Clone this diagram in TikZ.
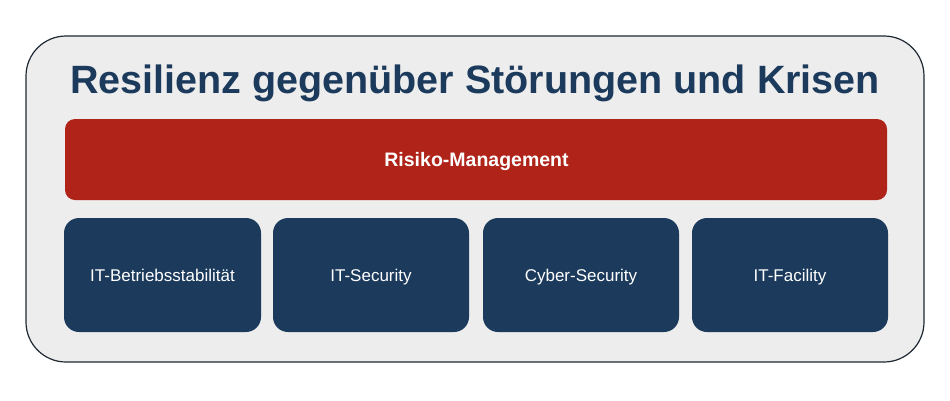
\documentclass[tikz,border=0pt]{standalone}
\usepackage{fontspec}
\setmainfont{Liberation Sans}
\definecolor{navy}{HTML}{1B3A5C}
\definecolor{rred}{HTML}{AF2318}
\definecolor{pale}{HTML}{EDEDED}
\definecolor{edge}{HTML}{1E2833}
\tikzset{
  outerbox/.style={draw=edge, line width=1.2pt, fill=pale, rounded corners=40pt},
  redbox/.style={fill=rred, rounded corners=10pt},
  bluebox/.style={fill=navy, rounded corners=15pt},
  boxtext/.style={text=white, font=\fontsize{17}{20}\selectfont, anchor=base, inner sep=0pt},
}
\begin{document}
\begin{tikzpicture}[x=1pt,y=-1pt]
\useasboundingbox (0,0) rectangle (950,400);
\draw[outerbox] (26,36) rectangle (924,362);
\node[anchor=base, inner sep=0pt, text=navy, font=\fontsize{39.5}{44}\selectfont\bfseries] (title) at (475,93.3) {Resilienz gegenüber Störungen und Krisen};
\fill[redbox] (65,119) rectangle (887,200);
\node[anchor=base, inner sep=0pt, text=white, font=\fontsize{19.5}{22}\selectfont\bfseries] (risk) at (476.5,166.7) {Risiko-Management};
\fill[bluebox] (64,218) rectangle (261,332);
\fill[bluebox] (273,218) rectangle (469,332);
\fill[bluebox] (483,218) rectangle (679,332);
\fill[bluebox] (692,218) rectangle (888,332);
\node[boxtext] (b1) at (162.5,281.5) {IT-Betriebsstabilität};
\node[boxtext] (b2) at (371,281.5) {IT-Security};
\node[boxtext] (b3) at (581,281.5) {Cyber-Security};
\node[boxtext] (b4) at (790,281.5) {IT-Facility};
\end{tikzpicture}
\end{document}
